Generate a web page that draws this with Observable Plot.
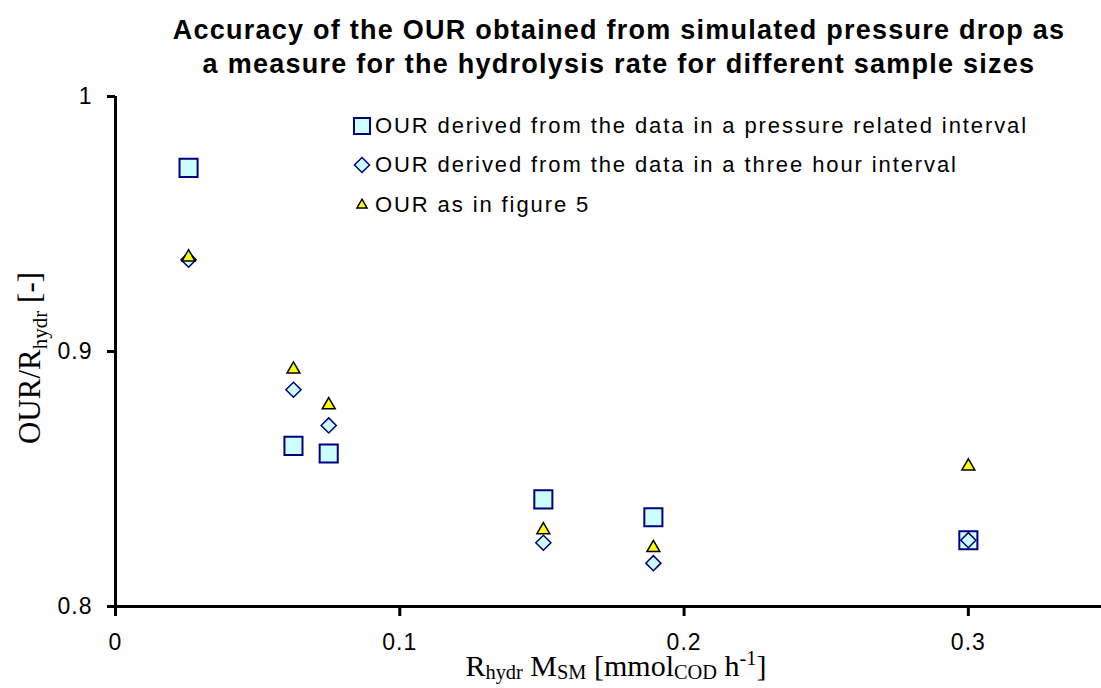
<!DOCTYPE html>
<html><head><meta charset="utf-8">
<script src="https://cdn.jsdelivr.net/npm/d3@7"></script>
<script src="https://cdn.jsdelivr.net/npm/@observablehq/plot@0.6"></script>
<style>
body{margin:0;background:#fff;}
#wrap{position:relative;width:1101px;height:688px;overflow:hidden;font-family:"Liberation Sans",Arial,sans-serif;color:#000;}
#title{position:absolute;left:0;width:1238px;top:13px;text-align:center;font-weight:bold;font-size:27px;letter-spacing:1.25px;line-height:34px;z-index:2;}
#legend{position:absolute;left:351px;top:106px;font-size:22px;letter-spacing:1.9px;z-index:2;}
#legend .row{height:39.5px;display:flex;align-items:center;white-space:nowrap;}
#legend svg{width:22px;height:22px;margin-right:2px;}
.ylab{position:absolute;left:29px;top:358px;line-height:31px;transform:translate(-50%,-50%) rotate(-90deg);font-family:"Liberation Serif","Times New Roman",serif;font-size:31px;white-space:nowrap;z-index:2;}
.xlab{position:absolute;left:616px;top:651px;line-height:30px;transform:translateX(-50%);font-family:"Liberation Serif","Times New Roman",serif;font-size:30px;white-space:nowrap;z-index:2;}
sub,sup{font-size:68%;line-height:0;}
.xlab sub{vertical-align:-0.14em;}
#chart{position:absolute;left:0;top:0;}
#chart text{letter-spacing:1px;}
</style></head>
<body>
<div id="wrap">
  <div id="title">Accuracy of the OUR obtained from simulated pressure drop as<br>a measure for the hydrolysis rate for different sample sizes</div>
  <div id="legend"></div>
  <div class="ylab">OUR/R<sub>hydr</sub> [-]</div>
  <div class="xlab">R<sub>hydr</sub> M<sub>SM</sub> [mmol<sub>COD</sub> h<sup>-1</sup>]</div>
  <div id="chart"></div>
</div>
<script>
// Data
const rateValues = [0.0257, 0.0626, 0.0750, 0.1505, 0.1892, 0.3000];
const pressureInterval = [0.972, 0.863, 0.860, 0.842, 0.835, 0.826];
const threeHourInterval = [0.936, 0.885, 0.871, 0.825, 0.817, 0.826];
const asFigure5 = [0.937, 0.893, 0.879, 0.830, 0.823, 0.855];

const seriesNames = [
  "OUR derived from the data in a pressure related interval",
  "OUR derived from the data in a three hour interval",
  "OUR as in figure 5"
];
const xTicks = [0, 0.1, 0.2, 0.3];
const xTickLabels = ["0", "0.1", "0.2", "0.3"];
const yTicks = [0.8, 0.9, 1];
const yTickLabels = ["0.8", "0.9", "1"];
const xDomain = [0, 0.35];
const yDomain = [0.8, 1];

const styles = [
  {symbol: "square", r: 10.2, fill: "#CCFFFF", stroke: "#000080", strokeWidth: 2},
  {symbol: "diamond2", r: 6.8, fill: "#CCFFFF", stroke: "#000080", strokeWidth: 1.5},
  {symbol: "triangle", r: 4.8, fill: "#FFFF00", stroke: "#000000", strokeWidth: 1.5}
];
const seriesValues = [pressureInterval, threeHourInterval, asFigure5];
const tables = seriesValues.map(vals => rateValues.map((x, i) => ({x, y: vals[i]})));

const plot = Plot.plot({
  width: 1101,
  height: 688,
  marginLeft: 115, marginRight: 0, marginTop: 96, marginBottom: 82,
  x: {domain: xDomain, range: [115, 1110]},
  y: {domain: yDomain, range: [606, 96]},
  style: {fontFamily: "Liberation Sans, Arial, sans-serif", background: "transparent", color: "black"},
  marks: [
    Plot.axisX({ticks: xTicks, tickSize: 10, tickPadding: 17, strokeWidth: 3, stroke: "black",
      tickFormat: d => xTickLabels[xTicks.indexOf(d)], fontSize: 23, fill: "black", label: null}),
    Plot.axisY({ticks: yTicks, tickSize: 8, tickPadding: 15, strokeWidth: 3, stroke: "black",
      tickFormat: d => yTickLabels[yTicks.indexOf(d)], fontSize: 23, fill: "black", label: null}),
    Plot.ruleY([{y: yDomain[0], x1: xDomain[0], x2: xDomain[1]}], {y: "y", x1: "x1", x2: "x2", stroke: "black", strokeWidth: 3}),
    Plot.ruleX([{x: xDomain[0], y1: yDomain[0], y2: yDomain[1]}], {x: "x", y1: "y1", y2: "y2", stroke: "black", strokeWidth: 3}),
    ...tables.map((t, k) => Plot.dot(t, {x: "x", y: "y", ...styles[k]}))
  ]
});
document.getElementById("chart").appendChild(plot);

// Legend
const leg = d3.select("#legend");
const symMap = {square: d3.symbolSquare2, diamond2: d3.symbolDiamond2, triangle: d3.symbolTriangle2};
seriesNames.forEach((name, k) => {
  const s = styles[k];
  const row = leg.append("div").attr("class", "row");
  const svg = row.append("svg").attr("viewBox", "-11 -11 22 22");
  svg.append("path")
    .attr("d", d3.symbol(symMap[s.symbol], Math.PI * s.r * s.r)())
    .attr("fill", s.fill).attr("stroke", s.stroke).attr("stroke-width", s.strokeWidth);
  row.append("span").text(name);
});
</script>
</body></html>
